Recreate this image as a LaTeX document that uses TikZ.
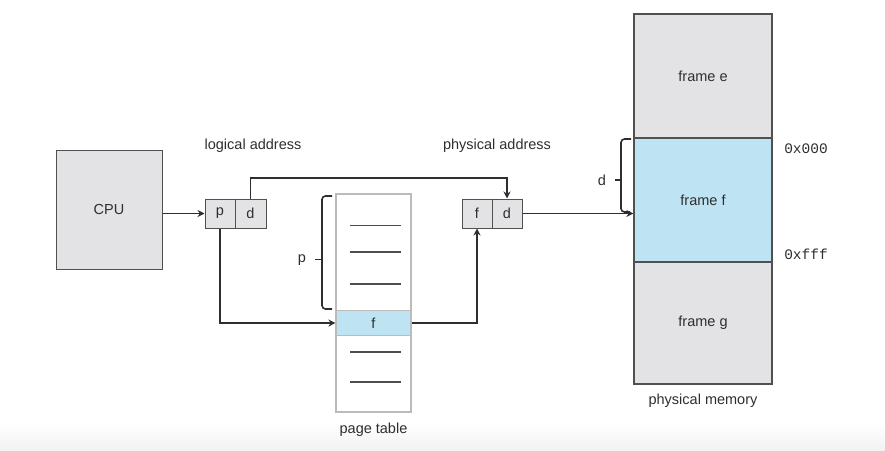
\documentclass[tikz,border=0pt]{standalone}
\usepackage{fontspec}
\setmainfont{Liberation Sans}
\setmonofont{Liberation Mono}
\usetikzlibrary{arrows.meta}
\definecolor{boxgray}{HTML}{E3E3E5}
\definecolor{edge}{HTML}{505050}
\definecolor{ink}{HTML}{2E2E2E}
\definecolor{rowblue}{HTML}{BEE4F4}
\definecolor{tableedge}{HTML}{BBBBBB}

\begin{document}
\begin{tikzpicture}[x=1pt,y=-1pt,
  font=\fontsize{14.5}{16}\selectfont, text=ink,
  box/.style={draw=edge, fill=boxgray, line width=1pt, inner sep=0pt},
  cell/.style={box, minimum width=30pt, minimum height=29pt},
  frame/.style={draw=edge, line width=1.3pt, inner sep=0pt,
    minimum width=138pt},
  link/.style={draw=ink, line width=1.8pt, -{Stealth[length=7pt,width=7pt]}},
  bracket/.style={draw=ink, line width=1.6pt, rounded corners=3.5pt},
  notch/.style={draw=ink, line width=1.6pt},
  entry/.style={draw=ink!85, line width=1.3pt},
  lbl/.style={inner sep=0pt}]

\useasboundingbox (0,0) rectangle (885,450);
\shade[top color=white, bottom color=black!5] (0,422) rectangle (885,450);

% CPU
\node[box, minimum width=106pt, minimum height=119pt] (cpu) at (109,209.5) {CPU};

% logical address p | d
\node[cell] (lp) at (220,213.5) {p};
\node[cell, minimum width=31pt] (ld) at (250.5,213.5) {d};

% physical address f | d
\node[cell] (pf) at (477,213.5) {f};
\node[cell] (pd) at (507,213.5) {d};

% page table
\node[draw=tableedge, fill=white, line width=1.1pt, minimum width=75pt,
  minimum height=218pt, inner sep=0pt] (ptable) at (373.5,303) {};
\node[draw=tableedge, fill=rowblue, line width=1.1pt, minimum width=75pt,
  minimum height=24.5pt, inner sep=0pt] (frow) at (373.5,323) {f};
\foreach \yy in {225.5,252,284,352,382}
  \draw[entry] (350,\yy) -- (400.5,\yy);

% physical memory
\node[frame, fill=boxgray, minimum height=124pt] (fe) at (703,76) {frame e};
\node[frame, fill=boxgray, minimum height=122pt] (fg) at (703,323) {frame g};
\node[frame, fill=rowblue, minimum height=124pt] (ff) at (703,200) {frame f};

% labels
\node[lbl] (lalbl) at (253,146) {logical address};
\node[lbl] (palbl) at (497,146) {physical address};
\node[lbl] (plbl) at (302,260) {p};
\node[lbl] (dlbl) at (602,180) {d};
\node[lbl, font=\fontsize{14.5}{16}\ttfamily] (lo) at (806,149) {0x000};
\node[lbl, font=\fontsize{14.5}{16}\ttfamily] (hi) at (806,254) {0xfff};
\node[lbl] (pmem) at (703,401) {physical memory};
\node[lbl] (ptlbl) at (373.5,430) {page table};

% brackets
\draw[bracket] (332,196) -- (322,196) -- (322,309) -- (332,309);
\draw[notch] (322,259.5) -- (315,259.5);
\draw[bracket] (631,139) -- (621,139) -- (621,212) -- (630,212);
\draw[notch] (621,180) -- (615,180);

% connectors
\coordinate (over) at (0,178);
\draw[link] (cpu.east |- lp.west) -- (lp.west);
\draw[link] (ld.north) -- (ld.north |- over) -| (pd.north);
\draw[link] (lp.south) |- (frow.west);
\draw[link] (frow.east) -| (pf.south);
\draw[link] (pd.east) -- (ff.west |- pd.east);
\end{tikzpicture}
\end{document}
